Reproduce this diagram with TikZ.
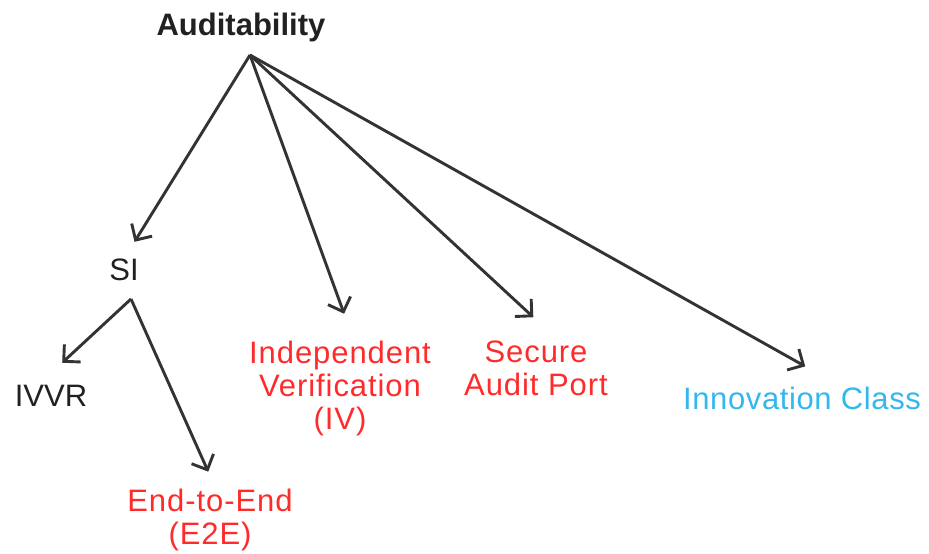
\documentclass[tikz,border=0pt]{standalone}
\usepackage{fontspec}
\setmainfont{Liberation Sans}
\usetikzlibrary{arrows.meta}

\newlength{\du}
\setlength{\du}{1pt}

\definecolor{textgray}{rgb}{0.130000, 0.130000, 0.130000}
\definecolor{linegray}{rgb}{0.200000, 0.200000, 0.200000}
\definecolor{auditred}{rgb}{1.000000, 0.170000, 0.170000}
\definecolor{innoblue}{rgb}{0.200000, 0.720000, 0.920000}

\tikzset{
  lbl/.style={inner sep=0pt, text=textgray, align=center,
    font=\fontsize{31pt}{33pt}\selectfont},
  redlbl/.style={lbl, text=auditred,
    font=\fontsize{31pt}{33pt}\selectfont\addfontfeature{LetterSpace=3}},
  bluelbl/.style={lbl, text=innoblue,
    font=\fontsize{31pt}{33pt}\selectfont\addfontfeature{LetterSpace=2}},
  arr/.style={draw=linegray, line width=2.9pt,
    -{Straight Barb[length=12pt,width=24pt]}},
}

\begin{document}
\begin{tikzpicture}
\pgftransformxscale{1.000000}
\pgftransformyscale{-1.000000}
\useasboundingbox (0\du,0\du) rectangle (929\du,554\du);
% root
\node[lbl, font=\fontsize{31pt}{33pt}\selectfont\bfseries] (audit) at (241\du,27\du){Auditability};
\coordinate (apex) at (250\du,55\du);
% first level
\node[lbl] (si) at (124\du,270\du){SI};
\node[redlbl, anchor=north] (iv) at (340\du,341\du){Independent\\Verification\\(IV)};
\node[redlbl, anchor=north] (sap) at (536\du,341\du){Secure\\Audit Port};
\node[bluelbl] (inno) at (802\du,398\du){Innovation Class};
% below SI
\coordinate (siapex) at (131\du,299\du);
\node[lbl] (ivvr) at (51\du,396\du){IVVR};
\node[redlbl, anchor=north] (e2e) at (210\du,489\du){End-to-End\\(E2E)};
% arrows from the root
\draw[arr, shorten >=20pt] (apex)--(si.north);
\draw[arr, shorten >=29pt] (apex)--([xshift=14pt]iv.north);
\draw[arr, shorten >=35pt] (apex)--([xshift=23pt]sap.north);
\draw[arr, shorten >=41pt] (apex)--([xshift=39pt]inno.north);
% arrows from SI
\draw[arr, shorten >=33pt] (siapex)--([xshift=-13pt]ivvr.north);
\draw[arr, shorten >=19pt] (siapex)--([xshift=6pt]e2e.north);
\end{tikzpicture}
\end{document}
